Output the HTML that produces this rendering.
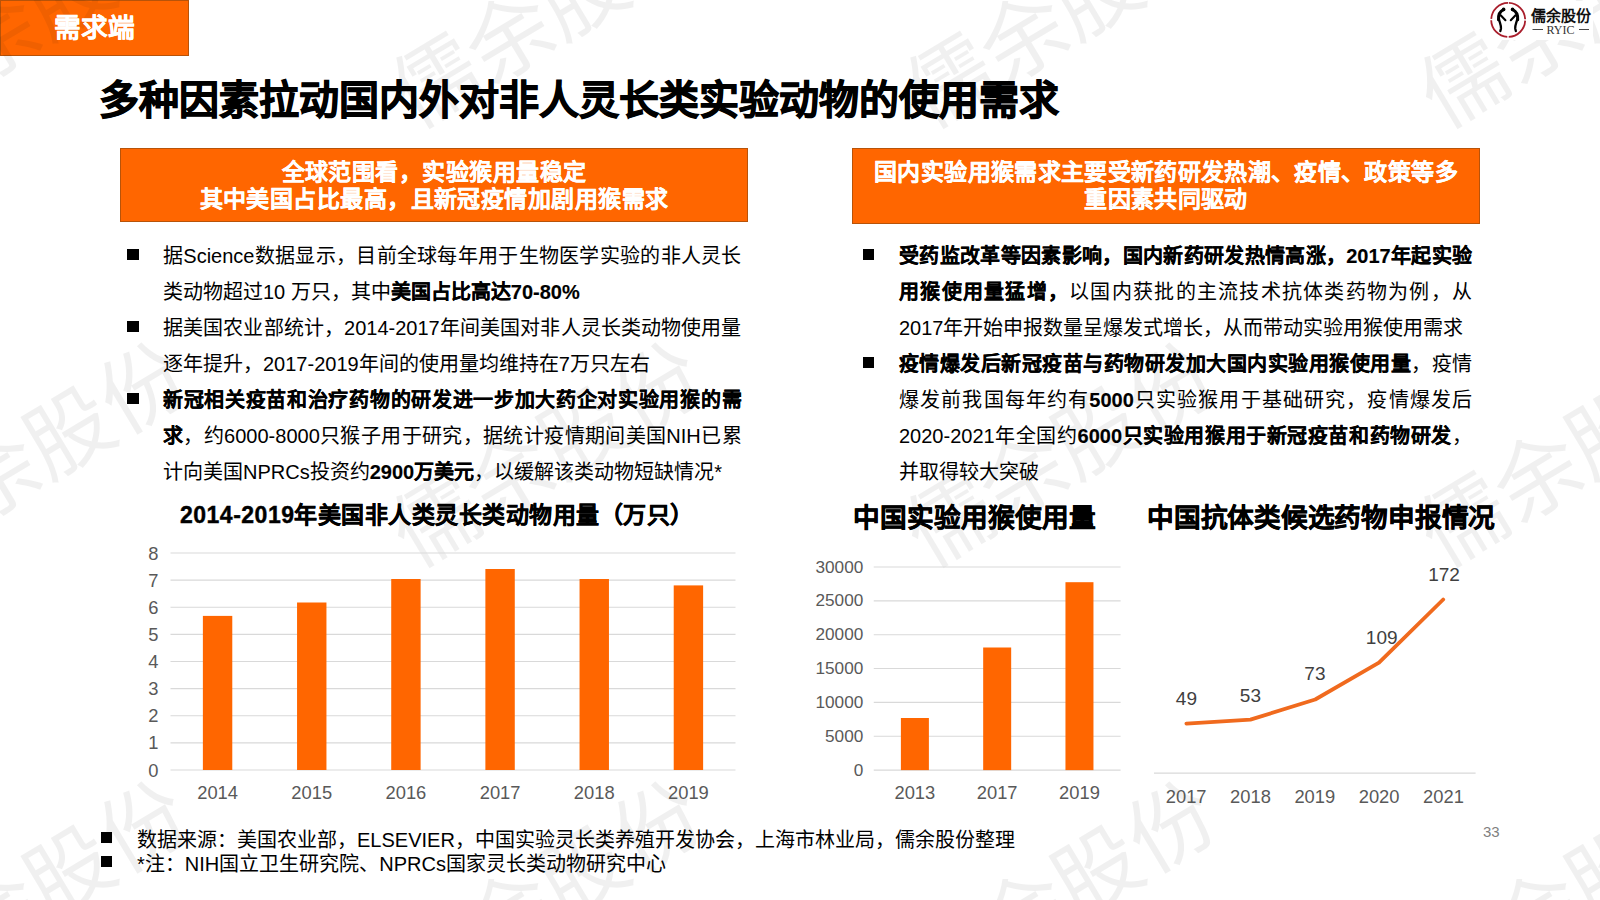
<!DOCTYPE html>
<html lang="zh-CN">
<head>
<meta charset="utf-8">
<style>
html,body{margin:0;padding:0;}
body{width:1600px;height:900px;position:relative;overflow:hidden;background:#fff;font-family:"Liberation Sans",sans-serif;color:#000;}
.a{position:absolute;white-space:nowrap;}
.tag{left:0;top:0;width:189px;height:55.5px;box-sizing:border-box;background:#ff6600;border:1.7px solid #b85309;}
.tagt{left:54px;top:10px;font-size:26.67px;font-weight:700;-webkit-text-stroke-width:0.2px;color:#fff;line-height:36px;}
.title{left:99px;top:74px;font-size:40px;font-weight:700;line-height:52px;-webkit-text-stroke-width:1px;}
.box{background:#ff6600;border:1.5px solid #b85309;box-sizing:border-box;color:#fff;font-weight:700;-webkit-text-stroke-width:0.25px;font-size:23px;letter-spacing:0.45px;line-height:27.5px;text-align:center;}
.bl{font-size:20px;line-height:24px;}
.sq{position:absolute;width:11.6px;height:11.6px;background:#000;}
b{font-weight:700;-webkit-text-stroke-width:0.15px;}
.ax{font-size:18px;color:#595959;line-height:20px;}
.ct{-webkit-text-stroke-width:0.4px;font-size:23px;letter-spacing:0.5px;font-weight:700;line-height:28px;}
.ct2{-webkit-text-stroke-width:0.5px;font-size:26.67px;font-weight:700;line-height:34px;}
.j{text-align:justify;text-align-last:justify;}
.wm{position:absolute;font-size:86.0px;color:rgba(0,0,0,0.06);white-space:nowrap;line-height:86.0px;width:344.0px;height:86.0px;margin-left:-172.0px;margin-top:-43.0px;transform:rotate(-31.0deg);transform-origin:50% 50%;text-align:center;font-weight:300;}
</style>
</head>
<body>
<div class="a tag"></div>
<!--WM-->
<div class="wm" style="left:33.0px;top:16.0px;">儒余股份</div>
<div class="wm" style="left:547.0px;top:16.0px;">儒余股份</div>
<div class="wm" style="left:1061.0px;top:16.0px;">儒余股份</div>
<div class="wm" style="left:1575.0px;top:16.0px;">儒余股份</div>
<div class="wm" style="left:33.0px;top:455.0px;">儒余股份</div>
<div class="wm" style="left:547.0px;top:455.0px;">儒余股份</div>
<div class="wm" style="left:1061.0px;top:455.0px;">儒余股份</div>
<div class="wm" style="left:1575.0px;top:455.0px;">儒余股份</div>
<div class="wm" style="left:33.0px;top:894.0px;">儒余股份</div>
<div class="wm" style="left:547.0px;top:894.0px;">儒余股份</div>
<div class="wm" style="left:1061.0px;top:894.0px;">儒余股份</div>
<div class="wm" style="left:1575.0px;top:894.0px;">儒余股份</div>
<!--/WM-->
<div class="a tagt">需求端</div>
<svg class="a" style="left:1480px;top:0;" width="120" height="45" viewBox="1480 0 120 45">
<rect x="1489" y="1" width="104" height="39" fill="#fff"/>
<circle cx="1508.2" cy="19.9" r="17" fill="none" stroke="#a91e2c" stroke-width="1.8" stroke-dasharray="25.2 1.5" transform="rotate(-88 1508.2 19.9)"/>
<path d="M1503.56,9.56 C1500.22,11.11 1498.13,14.22 1498.58,19.78" fill="none" stroke="#000" stroke-width="3.1" stroke-linecap="round"/>
<path d="M1499.02,19.56 C1499.91,23.11 1501.33,25.78 1500.98,28.44 L1500.36,31.11" fill="none" stroke="#000" stroke-width="2.3" stroke-linecap="round"/>
<path d="M1500.67,15.33 L1505.42,20.22" fill="none" stroke="#000" stroke-width="2.1" stroke-linecap="round"/>
<circle cx="1503.64" cy="9.42" r="1.8" fill="#000"/>
<path d="M1512.64,9.56 C1515.98,11.11 1518.07,14.22 1517.62,19.78" fill="none" stroke="#000" stroke-width="3.1" stroke-linecap="round"/>
<path d="M1517.18,19.56 C1516.29,23.11 1514.87,25.78 1515.22,28.44 L1515.84,31.11" fill="none" stroke="#000" stroke-width="2.3" stroke-linecap="round"/>
<path d="M1515.53,15.33 L1510.78,20.22" fill="none" stroke="#000" stroke-width="2.1" stroke-linecap="round"/>
<circle cx="1512.56" cy="9.42" r="1.8" fill="#000"/>
<line x1="1532.5" y1="29.5" x2="1543" y2="29.5" stroke="#333" stroke-width="0.9"/>
<line x1="1579" y1="29.5" x2="1589" y2="29.5" stroke="#333" stroke-width="0.9"/>
</svg>
<div class="a" style="left:1531px;top:5.5px;font-family:'Liberation Serif',serif;font-size:15px;font-weight:700;line-height:20px;color:#111;">儒余股份</div>
<div class="a" style="left:1546.5px;top:23px;font-family:'Liberation Serif',serif;font-size:12px;line-height:14px;color:#333;">RYIC</div>
<div class="a title">多种因素拉动国内外对非人灵长类实验动物的使用需求</div>

<div class="a box" style="left:120px;top:147.5px;width:628px;height:74px;padding-top:10px;">全球范围看，实验猴用量稳定<br>其中美国占比最高，且新冠疫情加剧用猴需求</div>
<div class="a box" style="left:852px;top:147.5px;width:628px;height:76px;padding-top:10px;letter-spacing:0.35px;">国内实验用猴需求主要受新药研发热潮、疫情、政策等多<br>重因素共同驱动</div>

<!-- left bullets -->
<div class="sq" style="left:127.2px;top:248.8px;"></div>
<div class="sq" style="left:127.2px;top:320.8px;"></div>
<div class="sq" style="left:127.2px;top:392.8px;"></div>
<div class="a bl j" style="left:163px;width:578.5px;top:244px;">据Science数据显示，目前全球每年用于生物医学实验的非人灵长</div>
<div class="a bl" style="left:163px;top:280px;">类动物超过10 万只，其中<b>美国占比高达70-80%</b></div>
<div class="a bl j" style="left:163px;width:578.5px;top:316px;">据美国农业部统计，2014-2017年间美国对非人灵长类动物使用量</div>
<div class="a bl" style="left:163px;top:352px;">逐年提升，2017-2019年间的使用量均维持在7万只左右</div>
<div class="a bl j" style="left:163px;width:578.5px;top:388px;"><b>新冠相关疫苗和治疗药物的研发进一步加大药企对实验用猴的需</b></div>
<div class="a bl j" style="left:163px;width:578.5px;top:424px;"><b>求</b>，约6000-8000只猴子用于研究，据统计疫情期间美国NIH已累</div>
<div class="a bl" style="left:163px;top:460px;">计向美国NPRCs投资约<b>2900万美元</b>，以缓解该类动物短缺情况*</div>

<!-- right bullets -->
<div class="sq" style="left:862.9px;top:248.8px;"></div>
<div class="sq" style="left:862.9px;top:356.8px;"></div>
<div class="a bl j" style="left:899px;width:573px;top:244px;"><b>受药监改革等因素影响，国内新药研发热情高涨，2017年起实验</b></div>
<div class="a bl j" style="left:899px;width:573px;top:280px;"><b>用猴使用量猛增，</b>以国内获批的主流技术抗体类药物为例，从</div>
<div class="a bl" style="left:899px;top:316px;">2017年开始申报数量呈爆发式增长，从而带动实验用猴使用需求</div>
<div class="a bl j" style="left:899px;width:573px;top:352px;"><b>疫情爆发后新冠疫苗与药物研发加大国内实验用猴使用量</b>，疫情</div>
<div class="a bl j" style="left:899px;width:573px;top:388px;">爆发前我国每年约有<b>5000</b>只实验猴用于基础研究，疫情爆发后</div>
<div class="a bl j" style="left:899px;width:573px;top:424px;">2020-2021年全国约<b>6000只实验用猴用于新冠疫苗和药物研发</b>，</div>
<div class="a bl" style="left:899px;top:460px;">并取得较大突破</div>

<!-- chart 1 -->
<div class="a ct" style="left:180px;top:501px;">2014-2019年美国非人类灵长类动物用量（万只）</div>
<div class="a ct2" style="left:853px;top:501px;">中国实验用猴使用量</div>
<div class="a ct2" style="left:1147px;top:501px;letter-spacing:-0.22px;">中国抗体类候选药物申报情况</div>
<svg class="a" style="left:0;top:0;" width="1600" height="900">
<line x1="170.5" y1="770.00" x2="735.5" y2="770.00" stroke="#d9d9d9" stroke-width="1.1"/>
<text x="158.5" y="776.60" text-anchor="end" font-size="18.33" fill="#595959" font-family="Liberation Sans, sans-serif">0</text>
<line x1="170.5" y1="742.88" x2="735.5" y2="742.88" stroke="#d9d9d9" stroke-width="1.1"/>
<text x="158.5" y="749.48" text-anchor="end" font-size="18.33" fill="#595959" font-family="Liberation Sans, sans-serif">1</text>
<line x1="170.5" y1="715.75" x2="735.5" y2="715.75" stroke="#d9d9d9" stroke-width="1.1"/>
<text x="158.5" y="722.35" text-anchor="end" font-size="18.33" fill="#595959" font-family="Liberation Sans, sans-serif">2</text>
<line x1="170.5" y1="688.62" x2="735.5" y2="688.62" stroke="#d9d9d9" stroke-width="1.1"/>
<text x="158.5" y="695.23" text-anchor="end" font-size="18.33" fill="#595959" font-family="Liberation Sans, sans-serif">3</text>
<line x1="170.5" y1="661.50" x2="735.5" y2="661.50" stroke="#d9d9d9" stroke-width="1.1"/>
<text x="158.5" y="668.10" text-anchor="end" font-size="18.33" fill="#595959" font-family="Liberation Sans, sans-serif">4</text>
<line x1="170.5" y1="634.38" x2="735.5" y2="634.38" stroke="#d9d9d9" stroke-width="1.1"/>
<text x="158.5" y="640.98" text-anchor="end" font-size="18.33" fill="#595959" font-family="Liberation Sans, sans-serif">5</text>
<line x1="170.5" y1="607.25" x2="735.5" y2="607.25" stroke="#d9d9d9" stroke-width="1.1"/>
<text x="158.5" y="613.85" text-anchor="end" font-size="18.33" fill="#595959" font-family="Liberation Sans, sans-serif">6</text>
<line x1="170.5" y1="580.12" x2="735.5" y2="580.12" stroke="#d9d9d9" stroke-width="1.1"/>
<text x="158.5" y="586.73" text-anchor="end" font-size="18.33" fill="#595959" font-family="Liberation Sans, sans-serif">7</text>
<line x1="170.5" y1="553.00" x2="735.5" y2="553.00" stroke="#d9d9d9" stroke-width="1.1"/>
<text x="158.5" y="559.60" text-anchor="end" font-size="18.33" fill="#595959" font-family="Liberation Sans, sans-serif">8</text>
<rect x="202.88" y="615.9" width="29.4" height="154.10" fill="#ff6600"/>
<text x="217.58" y="799" text-anchor="middle" font-size="18.33" fill="#595959" font-family="Liberation Sans, sans-serif">2014</text>
<rect x="297.05" y="602.5" width="29.4" height="167.50" fill="#ff6600"/>
<text x="311.75" y="799" text-anchor="middle" font-size="18.33" fill="#595959" font-family="Liberation Sans, sans-serif">2015</text>
<rect x="391.22" y="579" width="29.4" height="191.00" fill="#ff6600"/>
<text x="405.92" y="799" text-anchor="middle" font-size="18.33" fill="#595959" font-family="Liberation Sans, sans-serif">2016</text>
<rect x="485.38" y="569" width="29.4" height="201.00" fill="#ff6600"/>
<text x="500.08" y="799" text-anchor="middle" font-size="18.33" fill="#595959" font-family="Liberation Sans, sans-serif">2017</text>
<rect x="579.55" y="579" width="29.4" height="191.00" fill="#ff6600"/>
<text x="594.25" y="799" text-anchor="middle" font-size="18.33" fill="#595959" font-family="Liberation Sans, sans-serif">2018</text>
<rect x="673.72" y="585.4" width="29.4" height="184.60" fill="#ff6600"/>
<text x="688.42" y="799" text-anchor="middle" font-size="18.33" fill="#595959" font-family="Liberation Sans, sans-serif">2019</text>
<line x1="873.75" y1="770.10" x2="1120.6" y2="770.10" stroke="#d9d9d9" stroke-width="1.1"/>
<text x="863.3" y="775.70" text-anchor="end" font-size="17.2" fill="#595959" font-family="Liberation Sans, sans-serif">0</text>
<line x1="873.75" y1="736.25" x2="1120.6" y2="736.25" stroke="#d9d9d9" stroke-width="1.1"/>
<text x="863.3" y="741.85" text-anchor="end" font-size="17.2" fill="#595959" font-family="Liberation Sans, sans-serif">5000</text>
<line x1="873.75" y1="702.40" x2="1120.6" y2="702.40" stroke="#d9d9d9" stroke-width="1.1"/>
<text x="863.3" y="708.00" text-anchor="end" font-size="17.2" fill="#595959" font-family="Liberation Sans, sans-serif">10000</text>
<line x1="873.75" y1="668.55" x2="1120.6" y2="668.55" stroke="#d9d9d9" stroke-width="1.1"/>
<text x="863.3" y="674.15" text-anchor="end" font-size="17.2" fill="#595959" font-family="Liberation Sans, sans-serif">15000</text>
<line x1="873.75" y1="634.70" x2="1120.6" y2="634.70" stroke="#d9d9d9" stroke-width="1.1"/>
<text x="863.3" y="640.30" text-anchor="end" font-size="17.2" fill="#595959" font-family="Liberation Sans, sans-serif">20000</text>
<line x1="873.75" y1="600.85" x2="1120.6" y2="600.85" stroke="#d9d9d9" stroke-width="1.1"/>
<text x="863.3" y="606.45" text-anchor="end" font-size="17.2" fill="#595959" font-family="Liberation Sans, sans-serif">25000</text>
<line x1="873.75" y1="567.00" x2="1120.6" y2="567.00" stroke="#d9d9d9" stroke-width="1.1"/>
<text x="863.3" y="572.60" text-anchor="end" font-size="17.2" fill="#595959" font-family="Liberation Sans, sans-serif">30000</text>
<rect x="900.89" y="718" width="28" height="52.10" fill="#ff6600"/>
<text x="914.89" y="799" text-anchor="middle" font-size="18.33" fill="#595959" font-family="Liberation Sans, sans-serif">2013</text>
<rect x="983.17" y="647.5" width="28" height="122.60" fill="#ff6600"/>
<text x="997.17" y="799" text-anchor="middle" font-size="18.33" fill="#595959" font-family="Liberation Sans, sans-serif">2017</text>
<rect x="1065.46" y="582.2" width="28" height="187.90" fill="#ff6600"/>
<text x="1079.46" y="799" text-anchor="middle" font-size="18.33" fill="#595959" font-family="Liberation Sans, sans-serif">2019</text>
<line x1="1154" y1="773.1" x2="1475.6" y2="773.1" stroke="#d9d9d9" stroke-width="1.1"/>
<polyline points="1186.4,723.7 1250.4,719.6 1315.2,699.5 1379,662.7 1443.2,599.5" fill="none" stroke="#f06a1e" stroke-width="3.8" stroke-linecap="round" stroke-linejoin="round"/>
<text x="1186.4" y="705.1" text-anchor="middle" font-size="19" fill="#404040" font-family="Liberation Sans, sans-serif">49</text>
<text x="1250.4" y="701.6" text-anchor="middle" font-size="19" fill="#404040" font-family="Liberation Sans, sans-serif">53</text>
<text x="1314.9" y="680.4" text-anchor="middle" font-size="19" fill="#404040" font-family="Liberation Sans, sans-serif">73</text>
<text x="1381.7" y="643.6" text-anchor="middle" font-size="19" fill="#404040" font-family="Liberation Sans, sans-serif">109</text>
<text x="1444" y="580.9" text-anchor="middle" font-size="19" fill="#404040" font-family="Liberation Sans, sans-serif">172</text>
<text x="1186.16" y="803.2" text-anchor="middle" font-size="18.33" fill="#595959" font-family="Liberation Sans, sans-serif">2017</text>
<text x="1250.48" y="803.2" text-anchor="middle" font-size="18.33" fill="#595959" font-family="Liberation Sans, sans-serif">2018</text>
<text x="1314.80" y="803.2" text-anchor="middle" font-size="18.33" fill="#595959" font-family="Liberation Sans, sans-serif">2019</text>
<text x="1379.12" y="803.2" text-anchor="middle" font-size="18.33" fill="#595959" font-family="Liberation Sans, sans-serif">2020</text>
<text x="1443.44" y="803.2" text-anchor="middle" font-size="18.33" fill="#595959" font-family="Liberation Sans, sans-serif">2021</text>
</svg>

<!-- footer -->
<div class="sq" style="left:100.5px;top:831.8px;"></div>
<div class="sq" style="left:100.5px;top:855.8px;"></div>
<div class="a bl" style="left:137px;top:827.5px;">数据来源：美国农业部，ELSEVIER，中国实验灵长类养殖开发协会，上海市林业局，儒余股份整理</div>
<div class="a bl" style="left:137px;top:851.5px;">*注：NIH国立卫生研究院、NPRCs国家灵长类动物研究中心</div>
<div class="a" style="left:1483px;top:822.5px;font-size:15px;line-height:18px;color:#7f7f7f;">33</div>
</body>
</html>
